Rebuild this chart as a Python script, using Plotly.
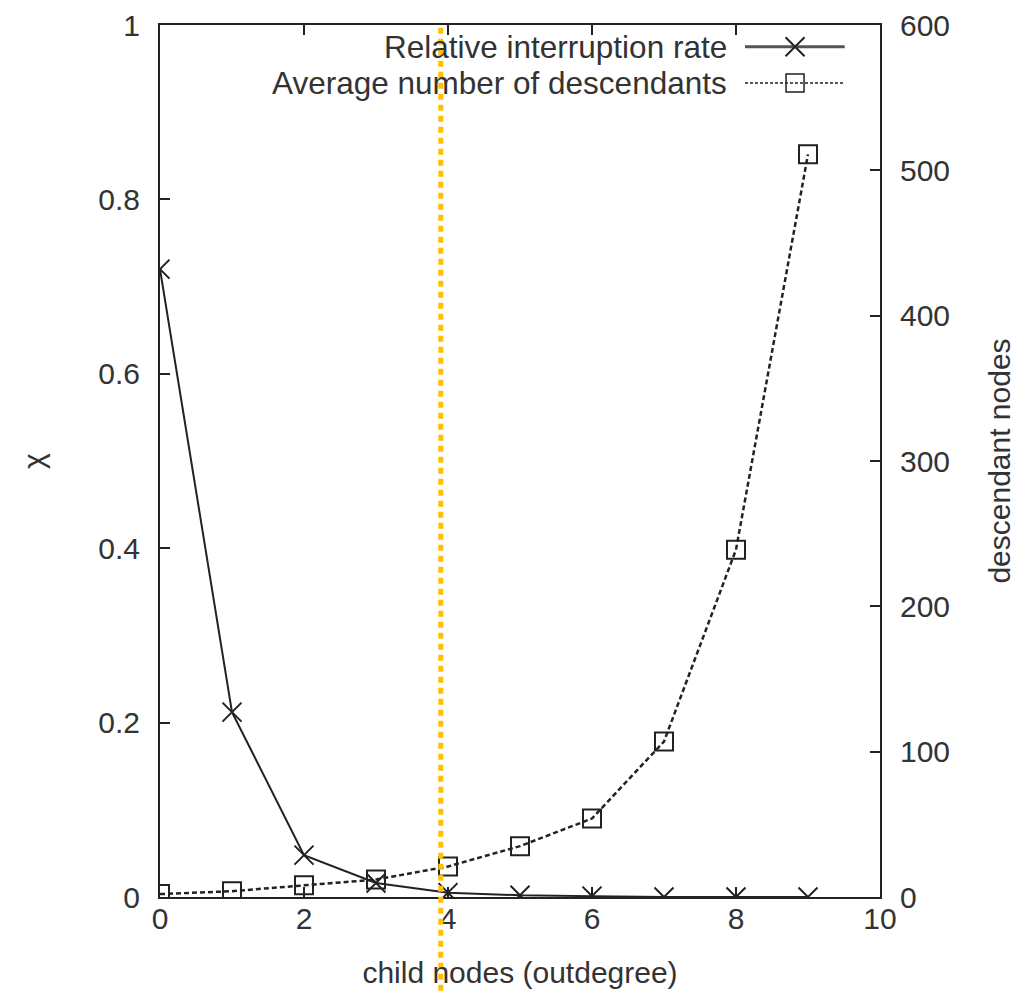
import plotly.graph_objects as go

# ---- data ----
outdegree = [0, 1, 2, 3, 4, 5, 6, 7, 8, 9]
interruption_rate = [0.72, 0.212, 0.048, 0.016, 0.005, 0.002, 0.001, 0.0, 0.0, 0.0]
avg_descendants = [2, 4, 8, 12, 21, 35, 54, 107, 239, 511]
threshold_x = 3.9

series_names = ["Relative interruption rate", "Average number of descendants"]
x_ticks = [0, 2, 4, 6, 8, 10]
y_ticks = [0, 0.2, 0.4, 0.6, 0.8, 1]
y2_ticks = [0, 100, 200, 300, 400, 500, 600]

# legend sample geometry (helper axis spanning the plot area, 0..1)
legend_sample_x = [0.8125, 0.882, 0.951]
legend_rows_y = [0.975, 0.9335]
legend_text_x = 0.79

FONT = "Liberation Sans, Arial, sans-serif"
TXT = "#333333"
LINE = "#222222"
FS = 30

fig = go.Figure()

fig.add_trace(go.Scatter(
    x=outdegree, y=interruption_rate, mode="lines+markers",
    line=dict(color=LINE, width=2),
    marker=dict(symbol="x-thin-open", size=19, color=LINE, line=dict(color=LINE, width=2)),
    showlegend=False, xaxis="x", yaxis="y"))

fig.add_trace(go.Scatter(
    x=outdegree, y=avg_descendants, mode="lines+markers",
    line=dict(color=LINE, width=2.5, dash="5px,3px"),
    marker=dict(symbol="square-open", size=18, color=LINE, line=dict(color=LINE, width=2)),
    showlegend=False, xaxis="x", yaxis="y2"))

# legend samples
fig.add_trace(go.Scatter(
    x=[legend_sample_x[0], legend_sample_x[2]], y=[legend_rows_y[0]] * 2, mode="lines",
    line=dict(color="#555555", width=3), showlegend=False, xaxis="x3", yaxis="y3", hoverinfo="skip"))
fig.add_trace(go.Scatter(
    x=[legend_sample_x[1]], y=[legend_rows_y[0]], mode="markers",
    marker=dict(symbol="x-thin-open", size=19, color=LINE, line=dict(color=LINE, width=2)),
    showlegend=False, xaxis="x3", yaxis="y3", hoverinfo="skip"))
fig.add_trace(go.Scatter(
    x=[legend_sample_x[0], legend_sample_x[2]], y=[legend_rows_y[1]] * 2, mode="lines",
    line=dict(color=LINE, width=1.5, dash="3px,2px"), showlegend=False, xaxis="x3", yaxis="y3", hoverinfo="skip"))
fig.add_trace(go.Scatter(
    x=[legend_sample_x[1]], y=[legend_rows_y[1]], mode="markers",
    marker=dict(symbol="square-open", size=18, color=LINE, line=dict(color=LINE, width=1.5)),
    showlegend=False, xaxis="x3", yaxis="y3", hoverinfo="skip"))

for name, yy in zip(series_names, legend_rows_y):
    fig.add_annotation(x=legend_text_x, y=yy, xref="x3", yref="y3", text=name,
                       showarrow=False, xanchor="right", yanchor="middle",
                       font=dict(family=FONT, size=31.5, color=TXT))

fig.add_shape(type="line", xref="x", yref="paper", x0=threshold_x, x1=threshold_x,
              y0=-0.12, y1=1.0, line=dict(color="#FFC000", width=5, dash="6px,5px"),
              layer="above")

axis_common = dict(showline=True, linecolor=LINE, linewidth=2, ticks="inside",
                   ticklen=10, tickwidth=2, tickcolor=LINE, showgrid=False, zeroline=False,
                   automargin=False,
                   tickfont=dict(family=FONT, size=FS, color=TXT))

fig.update_layout(
    width=1025, height=992,
    margin=dict(l=152, r=153, t=17, b=103),
    paper_bgcolor="white", plot_bgcolor="white",
    showlegend=False,
    xaxis=dict(range=[0, 10], tickvals=x_ticks, mirror="ticks", ticklabelstandoff=-6,
               title=dict(text="child nodes (outdegree)", standoff=28,
                          font=dict(family=FONT, size=FS, color=TXT)),
               **axis_common),
    yaxis=dict(range=[0, 1], tickvals=y_ticks, ticklabelstandoff=12,
               title=dict(text="χ", standoff=45, font=dict(family=FONT, size=FS, color=TXT)),
               **axis_common),
    yaxis2=dict(range=[0, 600], tickvals=y2_ticks, overlaying="y", side="right",
                ticklabelstandoff=12,
                title=dict(text="descendant nodes", standoff=40,
                           font=dict(family=FONT, size=FS, color=TXT)),
                **axis_common),
    xaxis3=dict(range=[0, 1], overlaying="x", visible=False),
    yaxis3=dict(range=[0, 1], overlaying="y", visible=False),
)

fig.write_html("out.html")
